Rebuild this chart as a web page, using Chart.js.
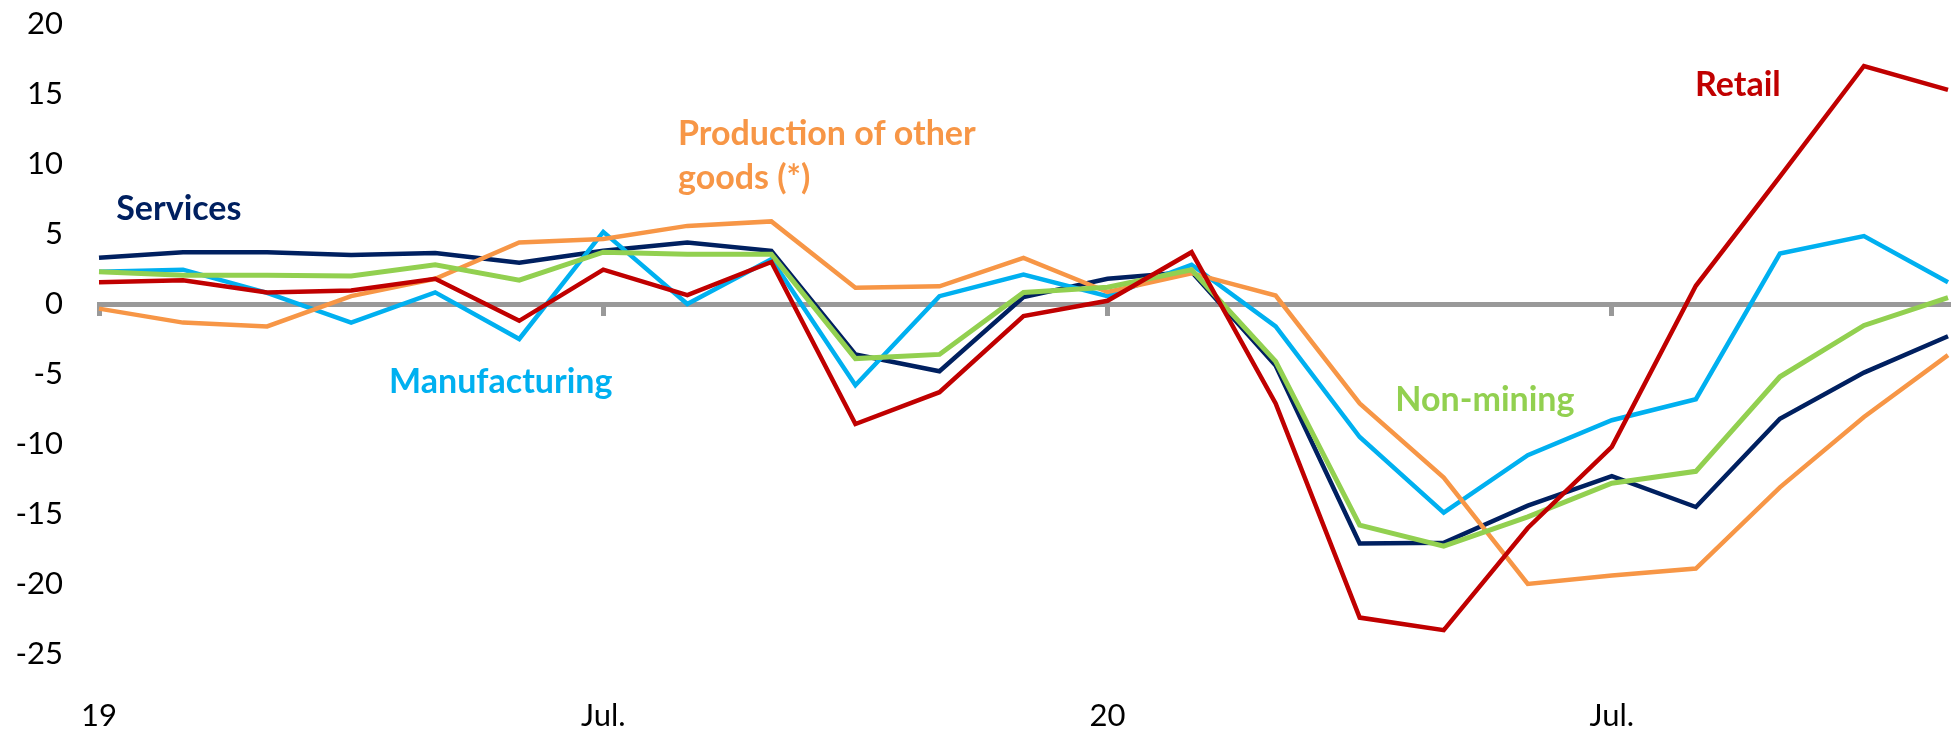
<!DOCTYPE html>
<html>
<head>
<meta charset="utf-8">
<script src="https://cdn.jsdelivr.net/npm/chart.js@4/dist/chart.umd.min.js"></script>
<style>
  body { margin: 0; background: #fff; }
  canvas { display: block; }
</style>
</head>
<body>
<canvas id="chart" width="1954" height="731"></canvas>
<script>
// --- Data (monthly, Jan 2019 - Nov 2020) ---
const categories = [
  "2019-01", "2019-02", "2019-03", "2019-04", "2019-05", "2019-06",
  "2019-07", "2019-08", "2019-09", "2019-10", "2019-11", "2019-12",
  "2020-01", "2020-02", "2020-03", "2020-04", "2020-05", "2020-06",
  "2020-07", "2020-08", "2020-09", "2020-10", "2020-11"
];
const tickLabels = { "2019-01": "19", "2019-07": "Jul.", "2020-01": "20", "2020-07": "Jul." };

const services      = [3.3, 3.7, 3.7, 3.5, 3.65, 2.95, 3.8, 4.4, 3.8, -3.6, -4.8, 0.5, 1.8, 2.3, -4.4, -17.1, -17.05, -14.4, -12.3, -14.5, -8.2, -4.9, -2.3];
const manufacturing = [2.3, 2.45, 0.8, -1.33, 0.83, -2.5, 5.15, 0.0, 3.2, -5.8, 0.56, 2.1, 0.56, 2.8, -1.6, -9.5, -14.9, -10.8, -8.3, -6.8, 3.6, 4.85, 1.56];
const otherGoods    = [-0.33, -1.33, -1.6, 0.56, 1.8, 4.4, 4.65, 5.58, 5.9, 1.16, 1.26, 3.3, 0.86, 2.2, 0.6, -7.1, -12.4, -20.0, -19.4, -18.9, -13.1, -8.07, -3.65];
const nonMining     = [2.3, 2.05, 2.05, 2.0, 2.8, 1.7, 3.7, 3.55, 3.55, -3.9, -3.6, 0.83, 1.2, 2.45, -4.1, -15.8, -17.3, -15.2, -12.8, -11.95, -5.2, -1.53, 0.46];
const retail        = [1.55, 1.7, 0.83, 0.96, 1.8, -1.2, 2.45, 0.63, 3.0, -8.57, -6.3, -0.86, 0.23, 3.7, -7.1, -22.4, -23.3, -16.0, -10.2, 1.3, 9.1, 17.0, 15.3];

const yMin = -25, yMax = 20, yStep = 5;

// --- Series name labels, anchored in data units (category index, value) ---
const seriesLabels = [
  { lines: ["Services"], color: "#002060", x: 0.95, y: 6.9, align: "center" },
  { lines: ["Manufacturing"], color: "#00B0F0", x: 4.78, y: -5.45, align: "center" },
  { lines: ["Production of other", "goods (*)"], color: "#F79646", x: 6.89, y: 12.2, align: "left" },
  { lines: ["Non-mining"], color: "#92D050", x: 16.49, y: -6.8, align: "center" },
  { lines: ["Retail"], color: "#C00000", x: 19.5, y: 15.7, align: "center" }
];

const FONT = "Lato, 'Open Sans', sans-serif";

const labelPlugin = {
  id: "seriesLabels",
  afterDatasetsDraw(chart) {
    let c = chart.ctx;
    let xs = chart.scales.x, ys = chart.scales.y;
    let size = 34;
    c.save();
    c.font = "bold " + size + "px " + FONT;
    c.textBaseline = "alphabetic";
    seriesLabels.forEach(l => {
      c.fillStyle = l.color;
      c.textAlign = l.align;
      let px = xs.getPixelForValue(l.x);
      let py = ys.getPixelForValue(l.y);
      l.lines.forEach((t, i) => {
        // centre of capitals on the anchor, 44px line spacing
        c.fillText(t, px, py + i * 44 + size * 0.36);
      });
    });
    c.restore();
  }
};

function line(label, data, color, width) {
  return { label: label, data: data, borderColor: color, backgroundColor: color, borderWidth: width, pointRadius: 0, tension: 0, fill: false };
}

// no side padding for the category axes, so the lines run edge to edge
function noSidePadding(s) {
  s.paddingLeft = 0;
  s.paddingRight = 0;
}

new Chart(document.getElementById("chart").getContext("2d"), {
  type: "line",
  data: {
    labels: categories,
    datasets: [
      line("Retail", retail, "#C00000", 4.5),
      line("Non-mining", nonMining, "#92D050", 5),
      line("Production of other goods (*)", otherGoods, "#F79646", 4.5),
      line("Manufacturing", manufacturing, "#00B0F0", 4.5),
      line("Services", services, "#002060", 4.5)
    ]
  },
  options: {
    responsive: false,
    animation: false,
    layout: { padding: { top: 24, right: 6, left: 0, bottom: 0 } },
    plugins: { legend: { display: false }, tooltip: { enabled: false } },
    scales: {
      x: {
        type: "category",
        grid: { display: false, drawTicks: false },
        border: { display: false },
        ticks: {
          autoSkip: false, maxRotation: 0, padding: 43,
          color: "#000", font: { family: FONT, size: 31 },
          callback: (v, i) => tickLabels[categories[i]] || ""
        },
        afterFit: s => { s.height = 77; noSidePadding(s); }
      },
      xZero: {
        type: "category",
        axis: "x",
        position: { y: 0 },
        border: { display: true, color: "#999999", width: 5 },
        grid: {
          drawOnChartArea: false, drawTicks: true, tickLength: 9, lineWidth: 5,
          color: c => (c.index % 6 === 0 ? "#999999" : "rgba(0,0,0,0)")
        },
        ticks: { display: false, autoSkip: false },
        afterFit: noSidePadding
      },
      y: {
        min: yMin, max: yMax,
        grid: { display: false, drawTicks: false },
        border: { display: false },
        ticks: { stepSize: yStep, padding: 36, color: "#000", font: { family: FONT, size: 31 } },
        afterFit: s => { s.width = 99; s.paddingTop = 0; s.paddingBottom = 0; }
      }
    }
  },
  plugins: [labelPlugin]
});
</script>
</body>
</html>
